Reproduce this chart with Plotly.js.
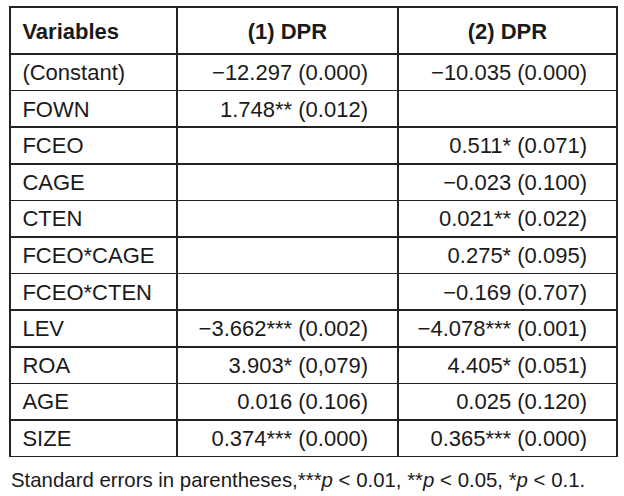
<!DOCTYPE html>
<html><head><meta charset="utf-8">
<script src="https://cdn.plot.ly/plotly-3.0.1.min.js"></script>
<style>html,body{margin:0;padding:0;background:#fff;}</style>
</head><body><div id="chart" style="width:624px;height:496px;"></div>
<script>
const headers = ["Variables", "(1) DPR", "(2) DPR"];
const variables = ["(Constant)", "FOWN", "FCEO", "CAGE", "CTEN", "FCEO*CAGE", "FCEO*CTEN", "LEV", "ROA", "AGE", "SIZE"];
const model1 = ["−12.297 (0.000)", "1.748** (0.012)", "", "", "", "", "", "−3.662*** (0.002)", "3.903* (0,079)", "0.016 (0.106)", "0.374*** (0.000)"];
const model2 = ["−10.035 (0.000)", "", "0.511* (0.071)", "−0.023 (0.100)", "0.021** (0.022)", "0.275* (0.095)", "−0.169 (0.707)", "−4.078*** (0.001)", "4.405* (0.051)", "0.025 (0.120)", "0.365*** (0.000)"];
const note = "Standard errors in parentheses,***<i>p</i> &lt; 0.01, **<i>p</i> &lt; 0.05, *<i>p</i> &lt; 0.1.";

const padR = s => s === "" ? s : s + "\u2002\u2002";
const padL = s => "\u2009" + s;
const W = 624, H = 496;
const FONT = "Liberation Sans, Arial, sans-serif";
const trace = {
  type: "table",
  columnwidth: [167, 221, 219],
  domain: {x: [10 / W, 617 / W], y: [0, 1 - 7 / H]},
  header: {
    values: headers.map((h, i) => "<b>" + (i === 0 ? padL(h) : h) + "</b>"),
    align: ["left", "center", "center"],
    height: 47,
    font: {family: FONT, size: 22, color: "#1a1a1a"},
    fill: {color: "#ffffff"},
    line: {color: "#222222", width: 1.5}
  },
  cells: {
    values: [variables.map(padL), model1.map(padR), model2.map(padR)],
    align: ["left", "right", "right"],
    height: 36.6,
    font: {family: FONT, size: 22, color: "#1a1a1a"},
    fill: {color: "#ffffff"},
    line: {color: "#222222", width: 1.5}
  }
};
const layout = {
  width: W, height: H,
  margin: {l: 0, r: 0, t: 0, b: 0},
  paper_bgcolor: "#ffffff",
  showlegend: false,
  annotations: [{
    text: note, xref: "paper", yref: "paper",
    x: 9 / W, y: 1 - 480 / H, xanchor: "left", yanchor: "middle",
    showarrow: false,
    font: {family: FONT, size: 20.4, color: "#1a1a1a"}
  }]
};
Plotly.newPlot("chart", [trace], layout, {displayModeBar: false, staticPlot: true}).then(gd => {
  // vertically centre header labels within the taller header row
  gd.querySelectorAll("text.cell-text").forEach(t => {
    if (headers.some(h => t.textContent.trim() === h.trim() || t.textContent.includes(h))) {
      t.style.transform = "translateY(4px)";
    } else {
      t.style.transform = "translateY(1.5px)";
    }
  });
});
</script></body></html>
